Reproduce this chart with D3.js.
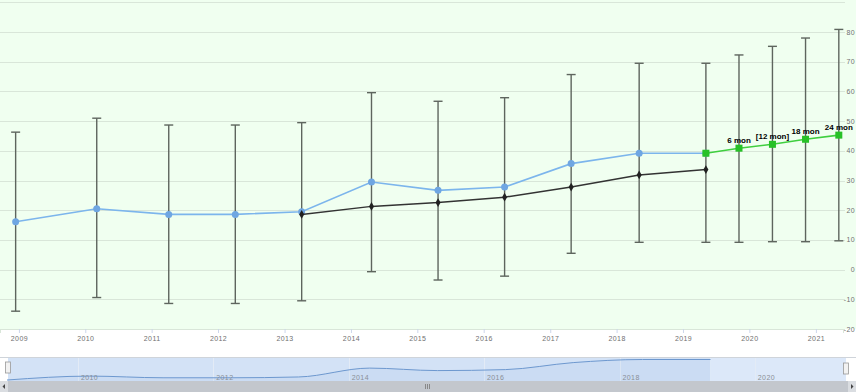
<!DOCTYPE html>
<html>
<head>
<meta charset="utf-8">
<script src="https://cdn.jsdelivr.net/npm/d3@7/dist/d3.min.js"></script>
<style>
  body { margin: 0; background: #fff; }
  svg { display: block; font-family: "Liberation Sans", Arial, sans-serif; }
</style>
</head>
<body>
<div id="chart"></div>
<script>
// data
var histDates = ["2008-12-14", "2010-03-05", "2011-04-05", "2012-04-05", "2013-04-05", "2014-04-24",
                 "2015-04-25", "2016-04-25", "2017-04-26", "2018-05-05", "2019-05-07"];
var histValues = [16.1, 20.5, 18.6, 18.6, 19.5, 29.5, 26.7, 27.8, 35.7, 39.2, 39.2];

var trendDates = ["2013-04-05", "2014-04-24", "2015-04-25", "2016-04-25", "2017-04-26", "2018-05-05", "2019-05-07"];
var trendValues = [18.6, 21.3, 22.6, 24.4, 27.8, 31.9, 33.7];

var fcDates = ["2019-05-07", "2019-11-05", "2020-05-07", "2020-11-05", "2021-05-07"];
var fcValues = [39.2, 40.9, 42.2, 43.9, 45.3];
var fcLabels = ["", "6 mon", "[12 mon]", "18 mon", "24 mon"];

var errDates = histDates.concat(fcDates.slice(1));
var errLow = [-14, -9.4, -11.4, -11.4, -10.5, -0.7, -3.5, -2.2, 5.5, 9.2, 9.2, 9.2, 9.4, 9.4, 9.7];
var errHigh = [46.3, 51, 48.7, 48.7, 49.5, 59.6, 56.7, 57.9, 65.7, 69.5, 69.5, 72.3, 75.2, 78, 80.9];

var yTicks = [-20, -10, 0, 10, 20, 30, 40, 50, 60, 70, 80, 90];

var svgWidth = 856;
var svgHeight = 392;
var plotRight = 843;
var plotBottom = 329;

var parse = d3.timeParse("%Y-%m-%d");

var svg = d3.select("#chart")
  .append("svg")
  .attr("width", svgWidth)
  .attr("height", svgHeight);

// main plot background
svg.append("rect")
  .attr("x", 0).attr("y", 0)
  .attr("width", svgWidth).attr("height", plotBottom)
  .attr("fill", "#f0fff0");

var xScale = d3.scaleTime()
  .domain([parse("2008-09-19"), parse("2021-05-30")])
  .range([0, plotRight]);

var yScale = d3.scaleLinear()
  .domain([-20, 90])
  .range([plotBottom, 2.4]);

// gridlines
svg.append("g")
  .selectAll("line")
  .data(yTicks)
  .enter()
  .append("line")
  .attr("x1", 0)
  .attr("x2", plotRight + 2)
  .attr("y1", d => Math.round(yScale(d)) + 0.5)
  .attr("y2", d => Math.round(yScale(d)) + 0.5)
  .attr("stroke", "#d9e6d9")
  .attr("stroke-width", 1);

// right axis labels
svg.append("g")
  .selectAll("text")
  .data(yTicks.filter(d => d < 90))
  .enter()
  .append("text")
  .attr("x", 855)
  .attr("y", d => yScale(d) + 2.5)
  .attr("text-anchor", "end")
  .attr("font-size", "7px")
  .attr("letter-spacing", "0.4px")
  .attr("fill", "#707070")
  .text(d => d);

// bottom axis
var bottomAxis = d3.axisBottom(xScale)
  .ticks(d3.timeYear.every(1))
  .tickFormat(d3.timeFormat("%Y"))
  .tickSize(4)
  .tickPadding(3);

var xAxisG = svg.append("g")
  .attr("transform", `translate(0, ${plotBottom})`)
  .call(bottomAxis);
xAxisG.select(".domain").attr("stroke", "#d9e6d9");
xAxisG.selectAll(".tick line").attr("stroke", "#ccd6eb");
xAxisG.selectAll(".tick text")
  .attr("fill", "#707070")
  .attr("font-size", "7px")
  .attr("letter-spacing", "0.4px")
  .attr("font-family", "Liberation Sans, Arial, sans-serif");

// error bars
var errData = errDates.map((d, i) => ({ date: parse(d), lo: errLow[i], hi: errHigh[i] }));
var errG = svg.append("g")
  .attr("stroke", "#5e655e")
  .attr("stroke-width", 1.4);

errG.selectAll(".stem")
  .data(errData)
  .enter()
  .append("line")
  .attr("x1", d => xScale(d.date))
  .attr("x2", d => xScale(d.date))
  .attr("y1", d => yScale(d.lo))
  .attr("y2", d => yScale(d.hi));

errG.selectAll(".capTop")
  .data(errData)
  .enter()
  .append("line")
  .attr("x1", d => xScale(d.date) - 4.5)
  .attr("x2", d => xScale(d.date) + 4.5)
  .attr("y1", d => yScale(d.hi))
  .attr("y2", d => yScale(d.hi));

errG.selectAll(".capBottom")
  .data(errData)
  .enter()
  .append("line")
  .attr("x1", d => xScale(d.date) - 4.5)
  .attr("x2", d => xScale(d.date) + 4.5)
  .attr("y1", d => yScale(d.lo))
  .attr("y2", d => yScale(d.lo));

var lineGen = d3.line()
  .x(d => xScale(d.date))
  .y(d => yScale(d.value));

var hist = histDates.map((d, i) => ({ date: parse(d), value: histValues[i] }));
var trend = trendDates.map((d, i) => ({ date: parse(d), value: trendValues[i] }));
var fc = fcDates.map((d, i) => ({ date: parse(d), value: fcValues[i], label: fcLabels[i] }));

// blue history line
svg.append("path")
  .datum(hist)
  .attr("d", lineGen)
  .attr("fill", "none")
  .attr("stroke", "#7cb5ec")
  .attr("stroke-width", 1.6);

svg.selectAll(".histDot")
  .data(hist)
  .enter()
  .append("circle")
  .attr("cx", d => xScale(d.date))
  .attr("cy", d => yScale(d.value))
  .attr("r", 3.5)
  .attr("fill", "#6fa6e2");

// black trend line
svg.append("path")
  .datum(trend)
  .attr("d", lineGen)
  .attr("fill", "none")
  .attr("stroke", "#333")
  .attr("stroke-width", 1.5);

svg.selectAll(".trendDot")
  .data(trend)
  .enter()
  .append("path")
  .attr("transform", d => `translate(${xScale(d.date)}, ${yScale(d.value)})`)
  .attr("d", d3.symbol().type(d3.symbolDiamond).size(22))
  .attr("fill", "#222");

// green forecast line
svg.append("path")
  .datum(fc)
  .attr("d", lineGen)
  .attr("fill", "none")
  .attr("stroke", "#3fcf3f")
  .attr("stroke-width", 1.6);

svg.selectAll(".fcDot")
  .data(fc)
  .enter()
  .append("rect")
  .attr("x", d => xScale(d.date) - 3.5)
  .attr("y", d => yScale(d.value) - 3.5)
  .attr("width", 7)
  .attr("height", 7)
  .attr("fill", "#27c127");

svg.selectAll(".fcLabel")
  .data(fc)
  .enter()
  .append("text")
  .attr("x", d => xScale(d.date))
  .attr("y", d => yScale(d.value) - 5)
  .attr("text-anchor", "middle")
  .attr("font-size", "8px")
  .attr("font-weight", "bold")
  .attr("fill", "#000")
  .text(d => d.label);

// ---- navigator ----
var navTop = 357;
var navBottom = 381;

var navX = d3.scaleTime()
  .domain([parse(histDates[0]), parse(fcDates[fcDates.length - 1])])
  .range([7, 846]);

var navY = d3.scaleLinear()
  .domain([d3.min(histValues), d3.max(histValues)])
  .range([380, 359.5]);

svg.append("line")
  .attr("x1", 0).attr("x2", svgWidth)
  .attr("y1", navTop + 0.5).attr("y2", navTop + 0.5)
  .attr("stroke", "#cfd4da");

svg.append("rect")
  .attr("x", 8).attr("y", navTop + 1)
  .attr("width", navX(parse(histDates[histDates.length - 1])) - 8)
  .attr("height", navBottom - navTop - 1)
  .attr("fill", "#d3e2f6");

svg.append("rect")
  .attr("x", navX(parse(histDates[histDates.length - 1]))).attr("y", navTop + 1)
  .attr("width", 846 - navX(parse(histDates[histDates.length - 1])))
  .attr("height", navBottom - navTop - 1)
  .attr("fill", "#dce8f9");

var navTicks = navX.ticks(d3.timeYear.every(2));
svg.append("g")
  .selectAll("line")
  .data(navTicks)
  .enter()
  .append("line")
  .attr("x1", d => Math.round(navX(d)) + 0.5)
  .attr("x2", d => Math.round(navX(d)) + 0.5)
  .attr("y1", navTop + 1)
  .attr("y2", navBottom)
  .attr("stroke", "#e3ebf6");

svg.append("path")
  .datum(hist)
  .attr("d", d3.area()
    .curve(d3.curveMonotoneX)
    .x(d => navX(d.date))
    .y0(navBottom)
    .y1(d => navY(d.value)))
  .attr("fill", "#4f80c8")
  .attr("fill-opacity", 0.06);

svg.append("path")
  .datum(hist)
  .attr("d", d3.line()
    .curve(d3.curveMonotoneX)
    .x(d => navX(d.date))
    .y(d => navY(d.value)))
  .attr("fill", "none")
  .attr("stroke", "#6d98cf")
  .attr("stroke-width", 1);

svg.append("g")
  .selectAll("text")
  .data(navTicks)
  .enter()
  .append("text")
  .attr("x", d => navX(d) + 3)
  .attr("y", 379.5)
  .attr("font-size", "7px")
  .attr("letter-spacing", "0.4px")
  .attr("fill", "#8a8f96")
  .text(d3.timeFormat("%Y"));

// handles
[[5.5, 362], [843.5, 363]].forEach(function(h) {
  svg.append("rect")
    .attr("x", h[0]).attr("y", h[1])
    .attr("width", 5).attr("height", 11)
    .attr("fill", "#f2f2f2")
    .attr("stroke", "#999")
    .attr("stroke-width", 0.8);
});

// scrollbar
svg.append("rect")
  .attr("x", 0).attr("y", navBottom)
  .attr("width", svgWidth).attr("height", svgHeight - navBottom)
  .attr("fill", "#c3c7cd");
svg.append("rect")
  .attr("x", 0).attr("y", navBottom)
  .attr("width", 8).attr("height", svgHeight - navBottom)
  .attr("fill", "#dadde1");
svg.append("rect")
  .attr("x", 848).attr("y", navBottom)
  .attr("width", 8).attr("height", svgHeight - navBottom)
  .attr("fill", "#dadde1");
svg.append("path")
  .attr("d", "M5,384 L2.5,386.5 L5,389 Z")
  .attr("fill", "#444");
svg.append("path")
  .attr("d", "M851,384 L853.5,386.5 L851,389 Z")
  .attr("fill", "#444");
[425, 427, 429].forEach(function(x) {
  svg.append("line")
    .attr("x1", x + 0.5).attr("x2", x + 0.5)
    .attr("y1", 384).attr("y2", 389)
    .attr("stroke", "#888");
});
</script>
</body>
</html>
